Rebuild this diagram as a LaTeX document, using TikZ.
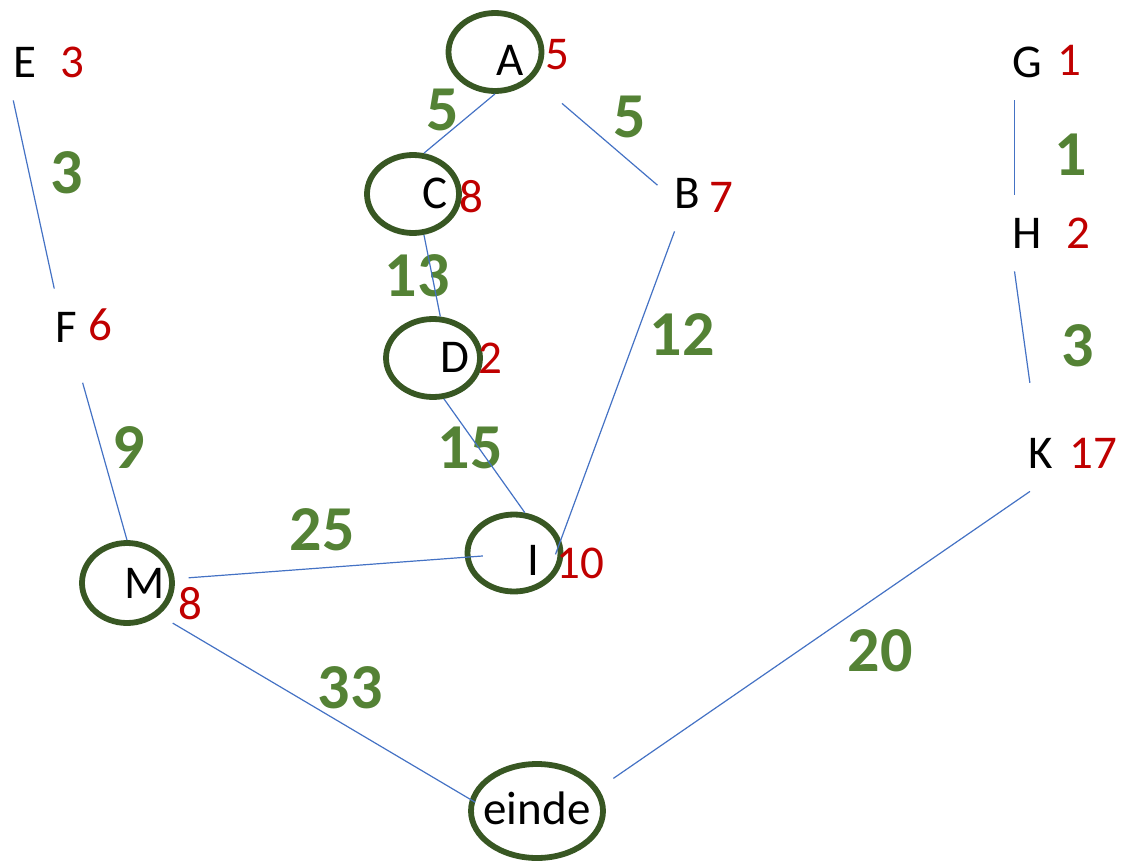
\documentclass[tikz,border=0pt]{standalone}
\usepackage{fontspec}
\setmainfont{Carlito}
\usetikzlibrary{shapes.geometric}

\definecolor{lijnblauw}{RGB}{68,114,196}
\definecolor{ringgroen}{RGB}{56,87,35}
\definecolor{gewgroen}{RGB}{84,130,53}
\definecolor{heurrood}{RGB}{192,0,0}

\begin{document}
\begin{tikzpicture}[x=0.5pt,y=-0.5pt,
    letter/.style={inner sep=0pt,minimum width=20pt,minimum height=38pt,font=\fontsize{23.5}{23.5}\selectfont},
    heur/.style={inner sep=0pt,text=heurrood,font=\fontsize{23.5}{23.5}\selectfont},
    gewicht/.style={inner sep=0pt,text=gewgroen,font=\fontsize{32}{32}\selectfont\bfseries},
    ring/.style={ellipse,draw=ringgroen,line width=2.9pt,inner sep=0pt},
    lijn/.style={every edge/.style={draw=lijnblauw,line width=0.6pt}}]
        \useasboundingbox (0,0) rectangle (1125,862);
        \node[ring,minimum width=46.5pt,minimum height=39pt] (r_A) at (495,52) {};
        \node[ring,minimum width=46pt,minimum height=39pt] (r_C) at (413,194) {};
        \node[ring,minimum width=47pt,minimum height=39pt] (r_D) at (433,358) {};
        \node[ring,minimum width=46.5pt,minimum height=38.5pt] (r_I) at (514,553) {};
        \node[ring,minimum width=45pt,minimum height=40pt] (r_M) at (127,583) {};
        \node[ring,minimum width=66pt,minimum height=47pt] (r_einde) at (537,811) {};
        \node[letter] (n_E) at (25,62) {E};
        \node[letter] (n_A) at (510,60) {A};
        \node[letter] (n_C) at (435,193) {C};
        \node[letter] (n_B) at (687,193) {B};
        \node[letter] (n_G) at (1027,62) {G};
        \node[letter] (n_H) at (1027,233) {H};
        \node[letter] (n_F) at (66,327) {F};
        \node[letter] (n_D) at (455,357) {D};
        \node[letter] (n_K) at (1041,453) {K};
        \node[letter] (n_I) at (533,560) {I};
        \node[letter] (n_M) at (145,583) {M};
        \node[letter] (n_einde) at (537,808) {einde};
        \node[heur] (h_E) at (72,62) {3};
        \node[heur] (h_A) at (557,55) {5};
        \node[heur] (h_C) at (471,197) {8};
        \node[heur] (h_B) at (721,197) {7};
        \node[heur] (h_G) at (1069,60) {1};
        \node[heur] (h_H) at (1078,233) {2};
        \node[heur] (h_F) at (100,325) {6};
        \node[heur] (h_D) at (490,358) {2};
        \node[heur] (h_K) at (1093,453) {17};
        \node[heur] (h_I) at (580,563) {10};
        \node[heur] (h_M) at (190,604) {8};
        \node[gewicht] (w_AC) at (443,110) {5};
        \node[gewicht] (w_AB) at (630,117) {5};
        \node[gewicht] (w_EF) at (67,173) {3};
        \node[gewicht] (w_GH) at (1071,155) {1};
        \node[gewicht] (w_CD) at (417,276) {13};
        \node[gewicht] (w_BI) at (682,335) {12};
        \node[gewicht] (w_HK) at (1078,346) {3};
        \node[gewicht] (w_FM) at (129,448) {9};
        \node[gewicht] (w_DI) at (470,448) {15};
        \node[gewicht] (w_MI) at (322,530) {25};
        \node[gewicht] (w_ME) at (350,688) {33};
        \node[gewicht] (w_KE) at (880,651) {20};
        \path[lijn]
        (n_E.-107) edge (n_F.107)
        (n_F.-73) edge[shorten <=9pt] (r_M.north)
        (r_A.south) edge (r_C.75)
        (r_A.-35) edge[shorten <=19pt,shorten >=6pt] (n_B.west)
        (r_C.-75) edge (r_D.80)
        (r_D.-75) edge (r_I.75)
        (n_B.-108) edge[shorten >=3pt] (n_I.east)
        (r_M.5) edge[shorten <=7pt,shorten >=-9pt] (r_I.185)
        (r_M.-45) edge[shorten <=8pt,shorten >=-3pt] (r_einde.170)
        (n_G.-108) edge (n_H.108)
        (n_H.-108) edge[shorten >=16pt] (n_K.100)
        (n_K.-106) edge[shorten >=9pt] (r_einde.20);
\end{tikzpicture}
\end{document}
